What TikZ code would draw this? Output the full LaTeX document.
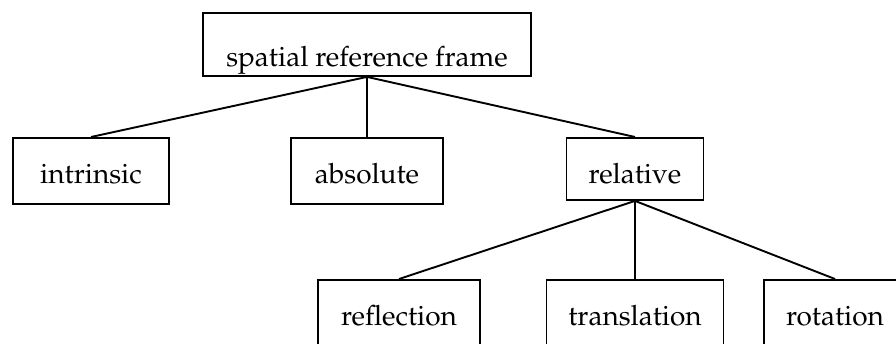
\documentclass[tikz,border=0pt]{standalone}
\usepackage[T1]{fontenc}
\usepackage{mathpazo}
\begin{document}
\begin{tikzpicture}[x=1pt,y=-1pt,
  box/.style={draw=black, line width=1.9pt, inner sep=0pt, fill=white,
    font=\fontsize{28}{33}\selectfont, anchor=north, align=center},
  link/.style={draw=black, line width=1.9pt}]
\useasboundingbox (0,0) rectangle (896,344);
\clip (0,0) rectangle (896,344);
\node[box, minimum width=328pt, text height=54pt, text depth=9pt] (srf) at (367,12) {spatial reference frame};
\node[box, minimum width=156pt, text height=46pt, text depth=20pt] (intr) at (91,137) {intrinsic};
\node[box, minimum width=152pt, text height=46pt, text depth=20pt] (abs) at (367,137) {absolute};
\node[box, minimum width=137pt, text height=46pt, text depth=16pt] (rel) at (635,137) {relative};
\node[box, minimum width=162pt, text height=46pt, text depth=20pt] (refl) at (399,279) {reflection};
\node[box, minimum width=177pt, text height=46pt, text depth=20pt] (trans) at (635,279) {translation};
\node[box, minimum width=142pt, text height=46pt, text depth=20pt] (rot) at (835,279) {rotation};
\draw[link] (srf.south) -- (intr.north);
\draw[link] (srf.south) -- (abs.north);
\draw[link] (srf.south) -- (rel.north);
\draw[link] (rel.south) -- (refl.north);
\draw[link] (rel.south) -- (trans.north);
\draw[link] (rel.south) -- (rot.north);
\end{tikzpicture}
\end{document}
